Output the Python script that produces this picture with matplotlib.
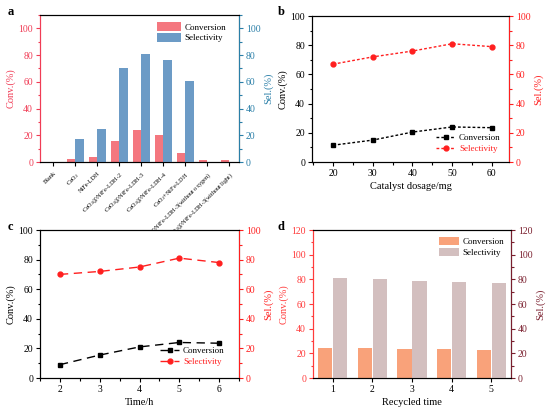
import matplotlib
matplotlib.use("Agg")
import matplotlib.pyplot as plt
from matplotlib.ticker import AutoMinorLocator, MultipleLocator

plt.rcParams['font.family'] = ['Liberation Serif', 'DejaVu Serif']
plt.rcParams['mathtext.default'] = 'regular'
plt.rcParams['xtick.direction'] = 'out'
plt.rcParams['ytick.direction'] = 'out'

# panel a data
cat_a = ["Blank", "CeO$_2$", "NiFe-LDH", "CeO$_2$@NiFe-LDH-2", "CeO$_2$@NiFe-LDH-3",
         "CeO$_2$@NiFe-LDH-4", "CeO$_2$+NiFe-LDH",
         "CeO$_2$@NiFe-LDH-3(without oxygen)", "CeO$_2$@NiFe-LDH-3(without light)"]
conv_a = [0, 2.5, 3.5, 15.5, 24, 20, 6.5, 1.2, 1.2]
sel_a = [0, 17.5, 24.5, 70, 81, 76.5, 60.5, 0, 0]

# panel b data
dosage = [20, 30, 40, 50, 60]
conv_b = [11.5, 15, 20.5, 24, 23.5]
sel_b = [67, 72, 76, 81, 79]

# panel c data
time_h = [2, 3, 4, 5, 6]
conv_c = [9, 15.5, 21, 24, 23.5]
sel_c = [70, 72, 75, 81, 78]

# panel d data
cycles = [1, 2, 3, 4, 5]
conv_d = [24, 24, 23.5, 23.2, 23]
sel_d = [81, 80.5, 79, 78, 77]

W, H = 550, 415
fig = plt.figure(figsize=(5.5, 4.15), dpi=100)

TICK_FS = 7
LAB_FS = 7.5
LEG_FS = 6.5


def box(l, r, t, b):
    return [l / W, 1 - b / H, (r - l) / W, (b - t) / H]


def style_axis(ax, side, color, step):
    ax.yaxis.set_major_locator(MultipleLocator(step))
    ax.yaxis.set_minor_locator(AutoMinorLocator(2))
    ax.tick_params(axis='y', which='major', colors=color, labelsize=TICK_FS, length=3, width=0.8, pad=2)
    ax.tick_params(axis='y', which='minor', colors=color, length=1.8, width=0.8)
    ax.spines[side].set_color(color)


def style_x(ax):
    ax.tick_params(axis='x', which='major', labelsize=TICK_FS, length=3, width=0.8, pad=2)
    ax.tick_params(axis='x', which='minor', length=1.8, width=0.8)
    ax.tick_params(top=False, which='both')


# ---- a ----
ax = fig.add_axes(box(40, 239, 15, 162))
ax2 = ax.twinx()
xa = list(range(len(cat_a)))
ax.bar([x - 0.2 for x in xa], conv_a, width=0.38, color='#f4777f', label='Conversion')
ax2.bar([x + 0.2 for x in xa], sel_a, width=0.38, color='#6c9bc6', label='Selectivity')
ax.set_xlim(-0.6, 8.45)
ax.set_ylim(0, 110)
ax2.set_ylim(0, 110)
ax.set_xticks(xa)
ax.set_xticklabels(cat_a, rotation=45, ha='right', rotation_mode='anchor', fontsize=4.5)
style_x(ax)
ax.tick_params(axis='x', labelsize=4.5, pad=3)
style_axis(ax, 'left', '#f03c55', 20)
style_axis(ax2, 'right', '#2a7fa8', 20)
ax2.spines['left'].set_color('#f03c55')
ax.set_ylabel('Conv.(%)', color='#f03c55', fontsize=LAB_FS, labelpad=2)
ax2.set_ylabel('Sel.(%)', color='#2a7fa8', fontsize=LAB_FS, labelpad=2)
h1, l1 = ax.get_legend_handles_labels()
h2, l2 = ax2.get_legend_handles_labels()
ax2.legend(h1 + h2, l1 + l2, loc='upper right', frameon=False, fontsize=LEG_FS,
           handlelength=2.6, handleheight=1.1, borderaxespad=0.4, labelspacing=0.15,
           handletextpad=0.4, bbox_to_anchor=(0.97, 1.0))
fig.text(8 / W, 1 - 12 / H, 'a', fontsize=9, fontweight='bold', va='center')

# ---- b ----
ax = fig.add_axes(box(312, 509, 16, 162))
ax2 = ax.twinx()
ax.plot(dosage, conv_b, color='black', marker='s', markersize=3.5, linestyle=(0, (2, 1.5)),
        linewidth=1, label='Conversion')
ax2.plot(dosage, sel_b, color='#ff1f1f', marker='o', markersize=3.5, linestyle=(0, (2, 1.5)),
         linewidth=1, label='Selectivity')
ax.set_xlim(14.7, 64.3)
ax.set_ylim(0, 100)
ax2.set_ylim(0, 100)
ax.set_xticks(dosage)
ax.xaxis.set_minor_locator(AutoMinorLocator(2))
style_x(ax)
style_axis(ax, 'left', 'black', 20)
style_axis(ax2, 'right', '#ff1f1f', 20)
ax2.spines['left'].set_color('black')
ax.set_ylabel('Conv.(%)', fontsize=LAB_FS, labelpad=2)
ax2.set_ylabel('Sel.(%)', color='#ff1f1f', fontsize=LAB_FS, labelpad=2)
ax.set_xlabel('Catalyst dosage/mg', fontsize=LAB_FS, labelpad=3)
h1, l1 = ax.get_legend_handles_labels()
h2, l2 = ax2.get_legend_handles_labels()
leg = ax2.legend(h1 + h2, l1 + l2, loc='lower right', frameon=False, fontsize=LEG_FS,
                 handlelength=2.2, borderaxespad=0.3, labelspacing=0.3, handletextpad=0.4,
                 bbox_to_anchor=(0.99, 0.02))
leg.get_texts()[1].set_color('#ff1f1f')
fig.text(278 / W, 1 - 12 / H, 'b', fontsize=9, fontweight='bold', va='center')

# ---- c ----
ax = fig.add_axes(box(40, 239, 230, 378))
ax2 = ax.twinx()
ax.plot(time_h, conv_c, color='black', marker='s', markersize=3.5, linestyle=(0, (6, 4)),
        linewidth=1, label='Conversion')
ax2.plot(time_h, sel_c, color='#ff1f1f', marker='o', markersize=3.5, linestyle=(0, (6, 4)),
         linewidth=1, label='Selectivity')
ax.set_xlim(1.5, 6.5)
ax.set_ylim(0, 100)
ax2.set_ylim(0, 100)
ax.set_xticks(time_h)
ax.xaxis.set_minor_locator(AutoMinorLocator(2))
style_x(ax)
style_axis(ax, 'left', 'black', 20)
style_axis(ax2, 'right', '#ff1f1f', 20)
ax2.spines['left'].set_color('black')
ax.set_ylabel('Conv.(%)', fontsize=LAB_FS, labelpad=2)
ax2.set_ylabel('Sel.(%)', color='#ff1f1f', fontsize=LAB_FS, labelpad=2)
ax.set_xlabel('Time/h', fontsize=LAB_FS, labelpad=3)
h1, l1 = ax.get_legend_handles_labels()
h2, l2 = ax2.get_legend_handles_labels()
leg = ax2.legend(h1 + h2, l1 + l2, loc='lower right', frameon=False, fontsize=LEG_FS,
                 handlelength=2.2, borderaxespad=0.3, labelspacing=0.3, handletextpad=0.4,
                 bbox_to_anchor=(0.96, 0.04))
leg.get_texts()[1].set_color('#ff1f1f')
fig.text(8 / W, 1 - 227 / H, 'c', fontsize=9, fontweight='bold', va='center')

# ---- d ----
ax = fig.add_axes(box(313, 511, 230, 378))
ax2 = ax.twinx()
ax.bar([c - 0.19 for c in cycles], conv_d, width=0.36, color='#f9a27a', label='Conversion')
ax2.bar([c + 0.19 for c in cycles], sel_d, width=0.36, color='#d3bfbf', label='Selectivity')
ax.set_xlim(0.5, 5.5)
ax.set_ylim(0, 120)
ax2.set_ylim(0, 120)
ax.set_xticks(cycles)
style_x(ax)
style_axis(ax, 'left', '#ff3b3b', 20)
style_axis(ax2, 'right', '#7a1f2e', 20)
ax2.spines['left'].set_color('#ff3b3b')
ax.set_ylabel('Conv.(%)', color='#ff3b3b', fontsize=LAB_FS, labelpad=2)
ax2.set_ylabel('Sel.(%)', color='#7a1f2e', fontsize=LAB_FS, labelpad=2)
ax.set_xlabel('Recycled time', fontsize=LAB_FS, labelpad=3)
h1, l1 = ax.get_legend_handles_labels()
h2, l2 = ax2.get_legend_handles_labels()
ax2.legend(h1 + h2, l1 + l2, loc='upper right', frameon=False, fontsize=LEG_FS,
           handlelength=2.2, handleheight=1.0, borderaxespad=0.4, labelspacing=0.15,
           handletextpad=0.4, bbox_to_anchor=(1.0, 1.0))
fig.text(278 / W, 1 - 227 / H, 'd', fontsize=9, fontweight='bold', va='center')

fig.savefig('out.png', dpi=100)
